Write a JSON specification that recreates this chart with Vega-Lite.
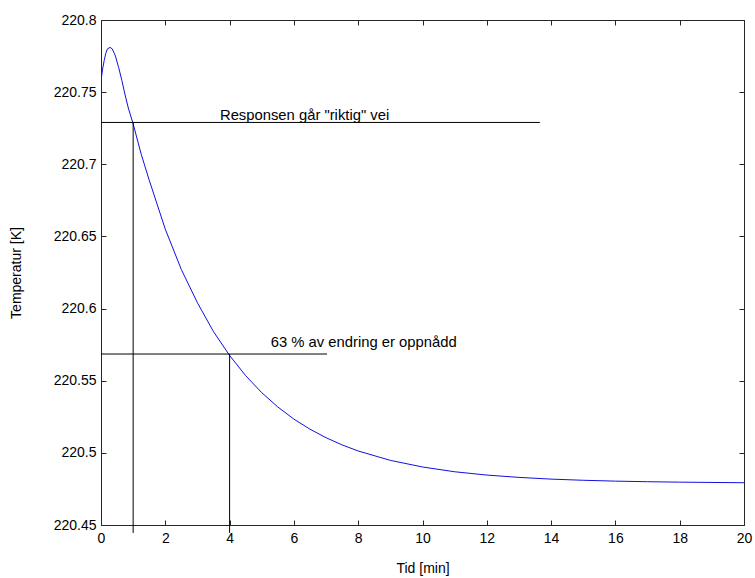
{
  "$schema": "https://vega.github.io/schema/vega-lite/v6.json",
  "width": 643,
  "height": 505,
  "autosize": {"type": "none"},
  "padding": {"left": 101, "top": 20, "right": 11, "bottom": 53},
  "background": "white",
  "config": {
    "view": {"stroke": null},
    "font": "Liberation Sans",
    "axis": {
      "domainColor": "#262626",
      "tickColor": "#262626",
      "labelColor": "#000000",
      "titleColor": "#000000",
      "labelFont": "Liberation Sans",
      "titleFont": "Liberation Sans",
      "labelFontSize": 14,
      "titleFontSize": 14,
      "titleFontWeight": "normal",
      "grid": false,
      "tickSize": -5,
      "domainWidth": 1,
      "tickWidth": 1
    }
  },
  "datasets": {
    "curve": [
      {"t": 0, "temp": 220.758},
      {"t": 0.05, "temp": 220.766},
      {"t": 0.1, "temp": 220.772},
      {"t": 0.15, "temp": 220.777},
      {"t": 0.2, "temp": 220.780},
      {"t": 0.28, "temp": 220.781},
      {"t": 0.35, "temp": 220.780},
      {"t": 0.45, "temp": 220.775},
      {"t": 0.55, "temp": 220.767},
      {"t": 0.65, "temp": 220.758},
      {"t": 0.75, "temp": 220.748},
      {"t": 0.85, "temp": 220.739},
      {"t": 1.0, "temp": 220.728},
      {"t": 1.25, "temp": 220.707},
      {"t": 1.5, "temp": 220.689},
      {"t": 2.0, "temp": 220.655},
      {"t": 2.5, "temp": 220.627},
      {"t": 3.0, "temp": 220.604},
      {"t": 3.5, "temp": 220.584},
      {"t": 4.0, "temp": 220.5675},
      {"t": 4.5, "temp": 220.5535},
      {"t": 5.0, "temp": 220.5417},
      {"t": 5.5, "temp": 220.5318},
      {"t": 6.0, "temp": 220.5234},
      {"t": 6.5, "temp": 220.5164},
      {"t": 7.0, "temp": 220.5105},
      {"t": 7.5, "temp": 220.5055},
      {"t": 8.0, "temp": 220.5013},
      {"t": 9.0, "temp": 220.4948},
      {"t": 10.0, "temp": 220.4902},
      {"t": 11.0, "temp": 220.4869},
      {"t": 12.0, "temp": 220.4846},
      {"t": 13.0, "temp": 220.483},
      {"t": 14.0, "temp": 220.4818},
      {"t": 15.0, "temp": 220.481},
      {"t": 16.0, "temp": 220.4804},
      {"t": 17.0, "temp": 220.480},
      {"t": 18.0, "temp": 220.4797},
      {"t": 20.0, "temp": 220.4793}
    ],
    "refs": [
      {"x1": 0, "x2": 13.65, "y1": 220.729, "y2": 220.729},
      {"x1": 1, "x2": 1, "y1": 220.4445, "y2": 220.729},
      {"x1": 0, "x2": 7.03, "y1": 220.5685, "y2": 220.5685},
      {"x1": 4, "x2": 4, "y1": 220.4445, "y2": 220.5685}
    ],
    "labels": [
      {"x": 3.7, "y": 220.7305, "label": "Responsen går \"riktig\" vei"},
      {"x": 5.28, "y": 220.5734, "label": "63 % av endring er oppnådd"}
    ]
  },
  "resolve": {"axis": {"x": "independent", "y": "independent"}},
  "layer": [
    {
      "data": {"name": "curve"},
      "mark": {"type": "line", "color": "#1010e0", "strokeWidth": 1, "clip": true},
      "encoding": {
        "x": {
          "field": "t", "type": "quantitative",
          "scale": {"domain": [0, 20], "nice": false, "zero": false},
          "axis": {"orient": "bottom", "title": "Tid [min]", "values": [0,2,4,6,8,10,12,14,16,18,20], "labelPadding": 11, "titlePadding": 16, "labelFlush": false}
        },
        "y": {
          "field": "temp", "type": "quantitative",
          "scale": {"domain": [220.45, 220.8], "nice": false, "zero": false},
          "axis": {"orient": "left", "title": "Temperatur [K]", "values": [220.45,220.5,220.55,220.6,220.65,220.7,220.75,220.8], "format": ".2~f", "labelPadding": 10, "titlePadding": 30, "labelFlush": false}
        }
      }
    },
    {
      "data": {"name": "curve"},
      "mark": {"type": "line", "opacity": 0},
      "encoding": {
        "x": {
          "field": "t", "type": "quantitative",
          "scale": {"domain": [0, 20], "nice": false, "zero": false},
          "axis": {"orient": "top", "title": null, "labels": false, "values": [0,2,4,6,8,10,12,14,16,18,20]}
        },
        "y": {
          "field": "temp", "type": "quantitative",
          "scale": {"domain": [220.45, 220.8], "nice": false, "zero": false},
          "axis": {"orient": "right", "title": null, "labels": false, "values": [220.45,220.5,220.55,220.6,220.65,220.7,220.75,220.8]}
        }
      }
    },
    {
      "data": {"name": "refs"},
      "mark": {"type": "rule", "color": "#000000", "strokeWidth": 1, "clip": false},
      "encoding": {
        "x": {"field": "x1", "type": "quantitative", "axis": null},
        "x2": {"field": "x2"},
        "y": {"field": "y1", "type": "quantitative", "axis": null},
        "y2": {"field": "y2"}
      }
    },
    {
      "data": {"name": "labels"},
      "mark": {"type": "text", "align": "left", "baseline": "alphabetic", "fontSize": 14.8, "font": "Liberation Sans", "color": "#000000"},
      "encoding": {
        "x": {"field": "x", "type": "quantitative", "axis": null},
        "y": {"field": "y", "type": "quantitative", "axis": null},
        "text": {"field": "label"}
      }
    }
  ]
}
